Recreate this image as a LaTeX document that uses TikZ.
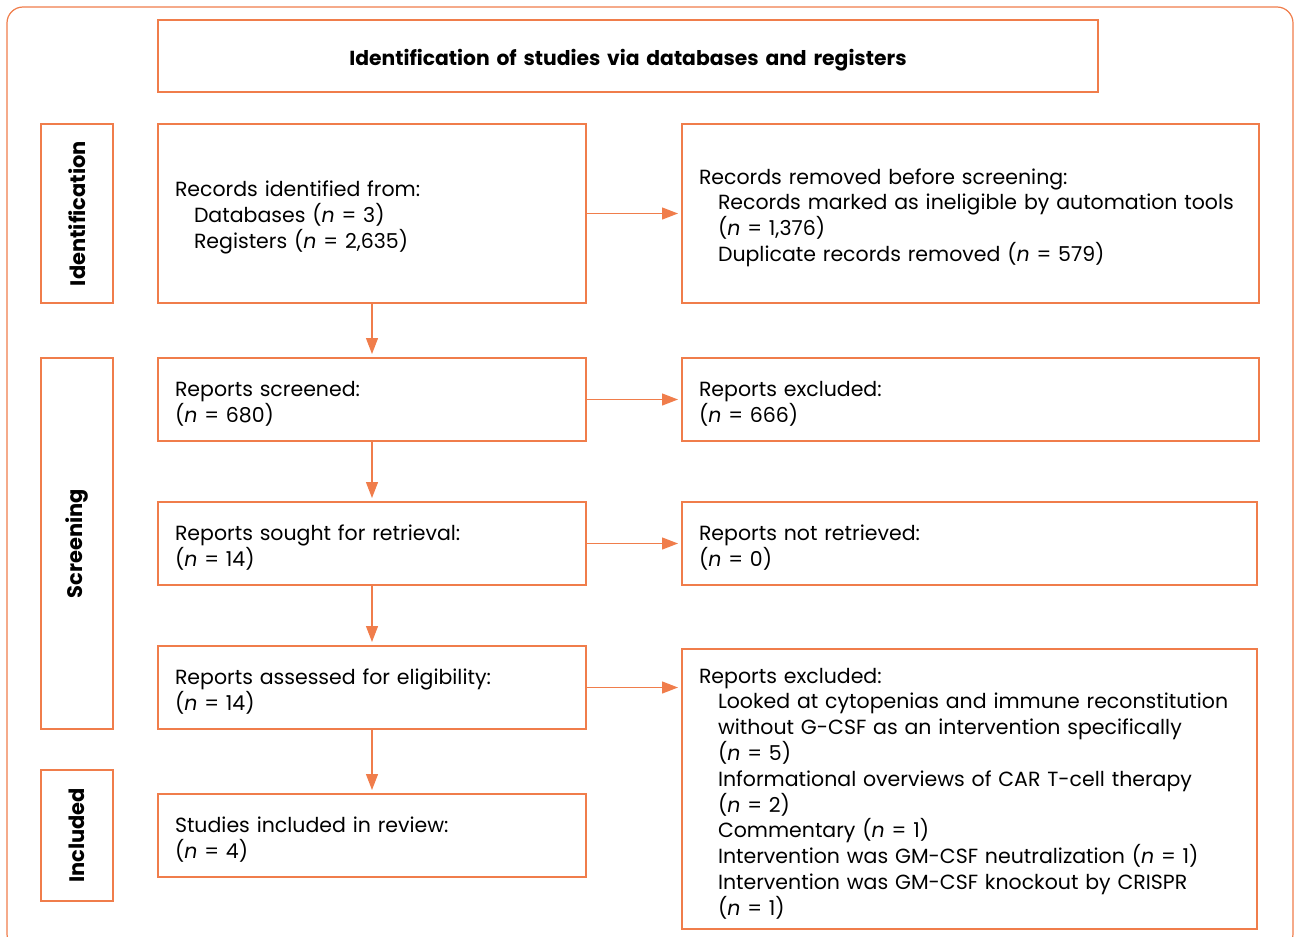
\documentclass[tikz,border=0pt]{standalone}
\usepackage{fontspec}
\setmainfont{Poppins}
\usetikzlibrary{arrows.meta,positioning}

\definecolor{prismaorange}{RGB}{240,125,75}
\newcommand{\sublead}{\hspace*{19pt}}
\newcommand{\nn}{\textit{n}}

\begin{document}
\begin{tikzpicture}[
x=1pt, y=-1pt,
node distance=55pt and 96pt,
process/.style={rectangle, draw=prismaorange, line width=1.3pt, outer sep=0pt, inner xsep=17pt, inner ysep=0pt,
  text width=394pt, minimum height=83pt, align=left, font=\fontsize{20.5}{25.8}\selectfont,
  execute at begin node={\rule{0pt}{24pt}}},
wide/.style={process, text width=543pt},
phase/.style={rectangle, draw=prismaorange, line width=1.3pt, outer sep=0pt, minimum height=72pt, rotate=90,
  font=\fontsize{21}{24}\selectfont\bfseries},
arrow/.style={-{Triangle[length=16pt,width=12pt]}, draw=prismaorange, line width=1.3pt, shorten >=4pt}
]
\clip (0,0) rectangle (1294,937);

% outer frame
\draw[prismaorange, line width=1.2pt, rounded corners=16pt] (7,7) rectangle (1293,950);

\node[process, text width=906pt, minimum height=72pt, align=center, font=\fontsize{20.3}{24}\selectfont\bfseries]
  (title) at (628,56) {Identification of studies via databases and registers};

\node[process, minimum height=179pt] (records) at (372,213.5)
  {Records identified from:\\
   \sublead Databases (\nn{} = 3)\\
   \sublead Registers (\nn{} = 2,635)};

\node[wide, minimum height=179pt, right=of records] (removed)
  {Records removed before screening:\\
   \sublead Records marked as ineligible by automation tools\\
   \sublead (\nn{} = 1,376)\\
   \sublead Duplicate records removed (\nn{} = 579)};

\node[process, below=of records] (screened) {Reports screened:\\(\nn{} = 680)};
\node[wide, right=of screened] (excluded) {Reports excluded:\\(\nn{} = 666)};

\node[process, below=61pt of screened] (sought) {Reports sought for retrieval:\\(\nn{} = 14)};
\node[wide, text width=541pt, right=of sought] (notretrieved) {Reports not retrieved:\\(\nn{} = 0)};

\node[process, below=61pt of sought] (assessed) {Reports assessed for eligibility:\\(\nn{} = 14)};
\node[wide, text width=541pt, minimum height=280pt, below right=3pt and 96pt of assessed.north east] (reasons)
  {Reports excluded:\\
   \sublead Looked at cytopenias and immune reconstitution\\
   \sublead without G-CSF as an intervention specifically\\
   \sublead (\nn{} = 5)\\
   \sublead Informational overviews of CAR T-cell therapy\\
   \sublead (\nn{} = 2)\\
   \sublead Commentary (\nn{} = 1)\\
   \sublead Intervention was GM-CSF neutralization (\nn{} = 1)\\
   \sublead Intervention was GM-CSF knockout by CRISPR\\
   \sublead (\nn{} = 1)};

\node[process, below=65pt of assessed] (included) {Studies included in review:\\(\nn{} = 4)};

% phase labels
\node[phase, minimum width=179pt] (identphase) at (77,213.5) {Identification};
\node[phase, minimum width=371pt] (screenphase) at (77,543.5) {Screening};
\node[phase, minimum width=131pt] (inclphase) at (77,835.5) {Included};

\draw[arrow] (records) -- (screened);
\draw[arrow] (screened) -- (sought);
\draw[arrow] (sought) -- (assessed);
\draw[arrow] (assessed) -- (included);
\draw[arrow] (records) -- (removed);
\draw[arrow] (screened) -- (excluded);
\draw[arrow] (sought) -- (notretrieved);
\draw[arrow] (assessed.east) -- (assessed.east -| reasons.west);

\end{tikzpicture}
\end{document}
